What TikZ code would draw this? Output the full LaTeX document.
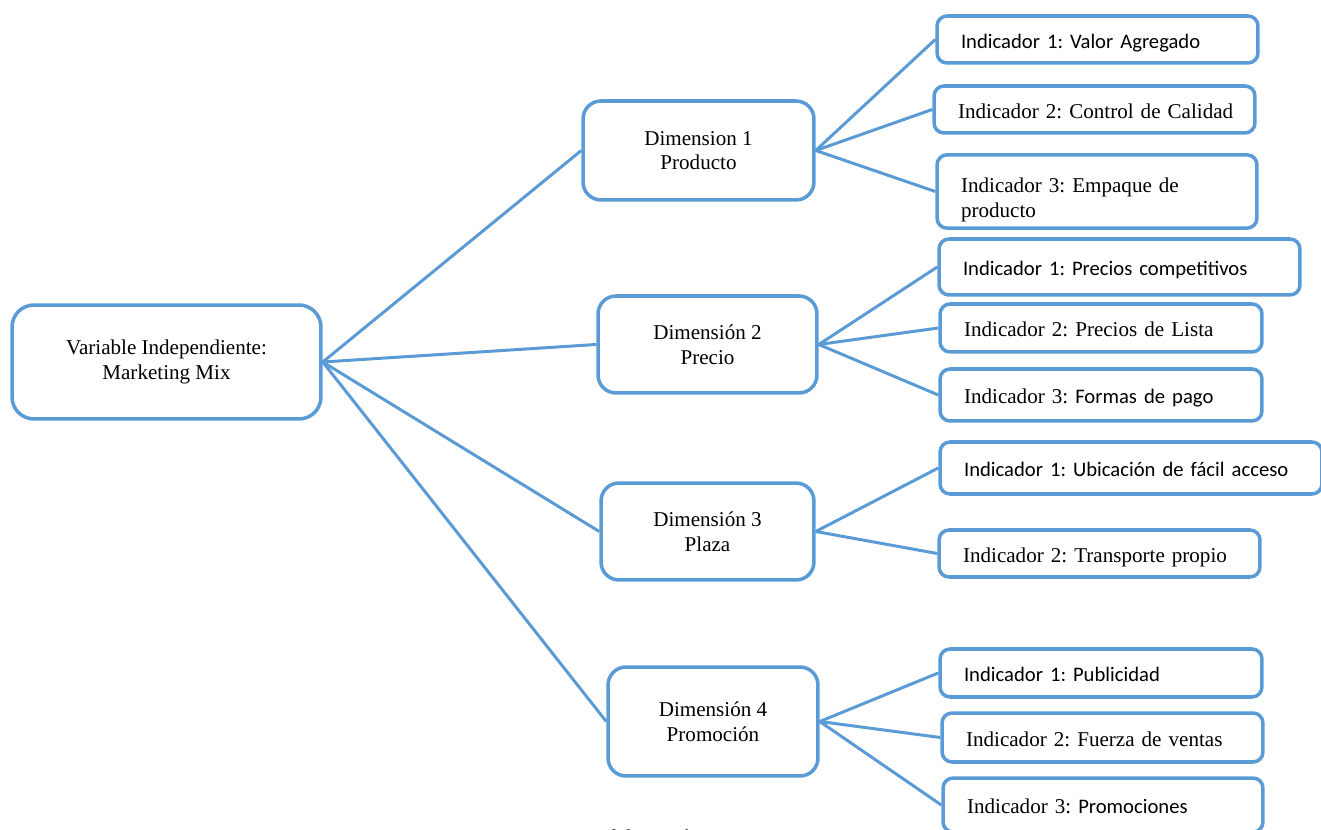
\documentclass[tikz,border=0pt]{standalone}
\usepackage{fontspec}
\setmainfont{Liberation Serif}
\newfontfamily\calib{Carlito}
\newcommand\calfont{\calib\fontsize{11.75}{13.5}\selectfont}
\usepackage{tikz}
\usetikzlibrary{positioning}
\definecolor{mixblue}{RGB}{91,155,213}
\frenchspacing
\hyphenpenalty=10000

\begin{document}
\begin{tikzpicture}[x=0.02cm, y=-0.02cm,
    varbox/.style={rectangle, draw=mixblue, line width=2pt, rounded corners=0.44cm, fill=white, align=center, font=\fontsize{12}{14}\selectfont},
    dimbox/.style={rectangle, draw=mixblue, line width=2pt, rounded corners=0.36cm, fill=white, align=center, font=\fontsize{12}{14}\selectfont},
    indbox/.style={rectangle, draw=mixblue, line width=2pt, rounded corners=0.2cm, fill=white, align=left, inner xsep=0.48cm, text width=#1, text height=10pt, text depth=0pt, font=\fontsize{12}{14.5}\selectfont},
    link/.style={mixblue, line width=1.7pt}
]
    \useasboundingbox (0,0) rectangle (1321,830);

    % Variable
    \node[varbox, minimum width=6.18cm, minimum height=2.28cm] (var) at (166.5,362) {Variable Independiente:\\Marketing Mix};

    % Dimensions
    \node[dimbox, minimum width=4.62cm, minimum height=1.98cm] (dim1) at (698.5,150.5) {Dimension 1\\Producto};
    \node[dimbox, minimum width=4.38cm, minimum height=1.94cm] (dim2) at (707.5,344.5) {Dimensión 2\\Precio};
    \node[dimbox, minimum width=4.26cm, minimum height=1.94cm] (dim3) at (707.5,531.5) {Dimensión 3\\Plaza};
    \node[dimbox, minimum width=4.2cm, minimum height=2.18cm] (dim4) at (713,721.5) {Dimensión 4\\Promoción};

    % Indicators - Producto
    \node[indbox=5.46cm, minimum height=0.94cm] (prod1) at (1097.5,39.5) {\calfont Indicador 1: Valor Agregado};
    \node[indbox=5.46cm, minimum height=0.94cm] (prod2) at (1094.5,109.5) {\mbox{Indicador 2: Control de Calidad}};
    \node[indbox=5.44cm, minimum height=1.46cm, text height=, text depth=] (prod3) at (1097,191.5) {\rule{0pt}{18pt}Indicador 3: Empaque de\\producto};

    % Indicators - Precio
    \node[indbox=6.26cm, minimum height=1.12cm] (prec1) at (1119.5,267) {\calfont Indicador 1: Precios competitivos};
    \node[indbox=5.48cm, minimum height=0.96cm] (prec2) at (1101,328) {Indicador 2: Precios de Lista};
    \node[indbox=5.48cm, minimum height=1.04cm] (prec3) at (1101,395) {Indicador 3: {\calfont Formas de pago}};

    % Indicators - Plaza
    \node[indbox=6.68cm, minimum height=1.04cm] (plaz1) at (1131,468) {\calfont Indicador 1: Ubicación de fácil acceso};
    \node[indbox=5.46cm, minimum height=0.94cm] (plaz2) at (1099.5,553.5) {Indicador 2: Transporte propio};

    % Indicators - Promocion
    \node[indbox=5.48cm, minimum height=0.96cm] (prom1) at (1101,673) {\calfont Indicador 1: Publicidad};
    \node[indbox=5.46cm, minimum height=0.98cm] (prom2) at (1102.5,737.5) {Indicador 2: Fuerza de ventas};
    \node[indbox=5.44cm, minimum height=1.08cm] (prom3) at (1103,805) {Indicador 3: {\calfont Promociones}};

    % Links
    \foreach \d in {dim1,dim2,dim3,dim4}
        \draw[link] (var.east) -- (\d.west);
    \foreach \i in {prod1,prod2,prod3}
        \draw[link] (dim1.east) -- (\i.west);
    \foreach \i in {prec1,prec2,prec3}
        \draw[link] (dim2.east) -- (\i.west);
    \foreach \i in {plaz1,plaz2}
        \draw[link] (dim3.east) -- (\i.west);
    \foreach \i in {prom1,prom2,prom3}
        \draw[link] (dim4.east) -- (\i.west);

    % Source
    \node[anchor=base west, inner sep=0pt, font=\fontsize{12}{14}\selectfont] (src) at (530,844) {Fuente: Elaboración propia};
\end{tikzpicture}
\end{document}
